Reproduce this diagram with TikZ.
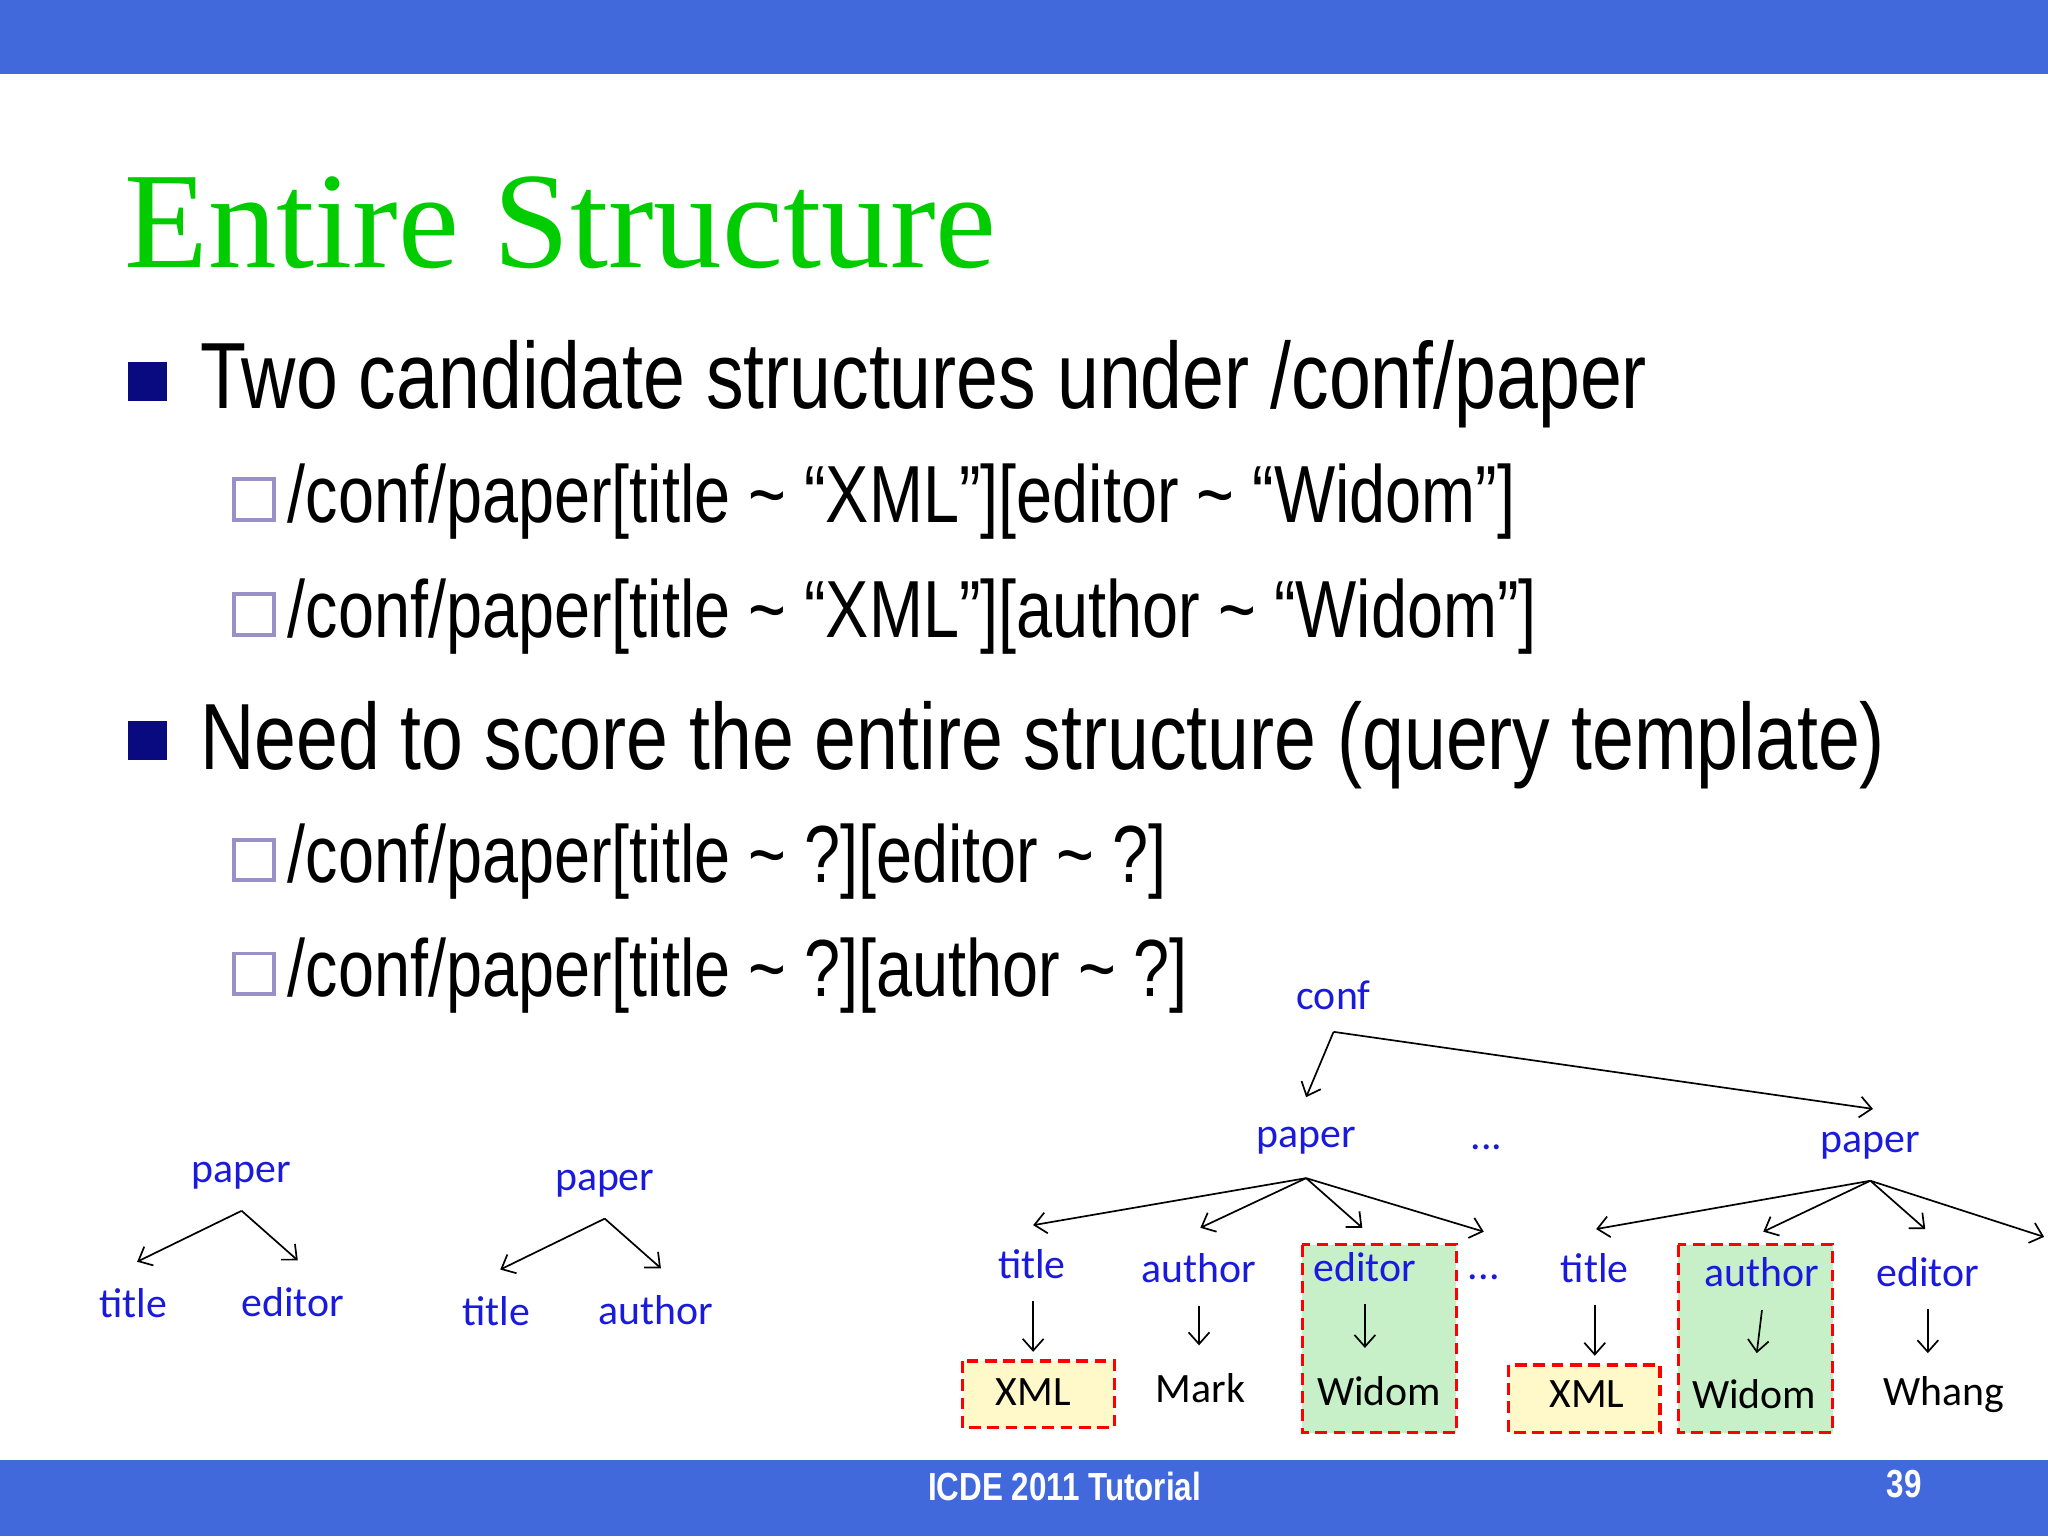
\documentclass[tikz,border=0pt]{standalone}
\usepackage{fontspec}
\usetikzlibrary{arrows.meta}
\setmainfont{Liberation Sans}
\newfontfamily\narrowf[FakeStretch=0.8]{Liberation Sans}
\newfontfamily\titlef{Liberation Serif}
\newfontfamily\calf{Carlito}
\definecolor{barblue}{HTML}{4169DC}
\definecolor{ttlgreen}{HTML}{00CC00}
\definecolor{navy}{HTML}{0A0A80}
\definecolor{lav}{HTML}{9A90C8}
\definecolor{tblue}{HTML}{1A1ADC}
\definecolor{yelfill}{HTML}{FFF8C8}
\definecolor{grnfill}{HTML}{C8F0C8}
\tikzset{
 bl/.style={font=\calf\fontsize{32}{36}\selectfont,text=tblue,inner sep=0pt},
 bk/.style={font=\calf\fontsize{32}{36}\selectfont,text=black,inner sep=0pt},
 ar/.style={-{Straight Barb[length=9pt,width=16pt]},line width=1.3pt},
 hl/.style={draw=red,dashed,line width=2.5pt,dash pattern=on 9pt off 5pt},
 big/.style={font=\narrowf\fontsize{72}{80}\selectfont,anchor=base west,inner sep=0pt},
 sub/.style={font=\narrowf\fontsize{62}{70}\selectfont,anchor=base west,inner sep=0pt},
 osq/.style={draw=lav,line width=3pt}
}
\begin{document}
\begin{tikzpicture}[x=1pt,y=-1pt]
\useasboundingbox (0,0) rectangle (1568,1176);
\fill[white] (0,0) rectangle (1568,1176);
\fill[barblue] (0,0) rectangle (1568,57);
\fill[barblue] (0,1118) rectangle (1568,1176);
\node[font=\narrowf\bfseries\fontsize{30}{34}\selectfont,text=white] (foot) at (815,1138) {ICDE 2011 Tutorial};
\node[font=\narrowf\bfseries\fontsize{30}{34}\selectfont,text=white] (pg) at (1458,1136) {39};
\node[font=\titlef\fontsize{105}{115}\selectfont,text=ttlgreen,anchor=base west,inner sep=0pt] (ttl) at (95,205) {Entire Structure};
\fill[navy] (98,277) rectangle (128,307);
\node[big] (b1) at (153,313) {Two candidate structures under /conf/paper};
\draw[osq] (179,367) rectangle (210,398);
\node[sub] (s1) at (220,400) {/conf/paper[title \textasciitilde{} “XML”][editor \textasciitilde{} “Widom”]};
\draw[osq] (179,455) rectangle (210,486);
\node[sub] (s2) at (220,488) {/conf/paper[title \textasciitilde{} “XML”][author \textasciitilde{} “Widom”]};
\fill[navy] (98,552) rectangle (128,582);
\node[big] (b2) at (153,589) {Need to score the entire structure (query template)};
\draw[osq] (179,643) rectangle (210,674);
\node[sub] (s3) at (220,676) {/conf/paper[title \textasciitilde{} ?][editor \textasciitilde{} ?]};
\draw[osq] (179,730) rectangle (210,761);
\node[sub] (s4) at (220,763) {/conf/paper[title \textasciitilde{} ?][author \textasciitilde{} ?]};
% left trees
\node[bl] (p1) at (185,900) {paper};
\node[bl] (t1) at (102,998) {title};
\node[bl] (e1) at (224,997) {editor};
\coordinate (p1b) at (185,927);
\draw[ar] (p1b) -- (105,966); \draw[ar] (p1b) -- (228,965);
\node[bl] (p2) at (463,906) {paper};
\node[bl] (t2) at (380,1004) {title};
\node[bl] (a2) at (502,1003) {author};
\coordinate (p2b) at (463,933);
\draw[ar] (p2b) -- (383,972); \draw[ar] (p2b) -- (506,971);
% big tree boxes
\draw[hl,fill=yelfill] (737,1042) rectangle (853,1093);
\draw[hl,fill=grnfill] (997,953) rectangle (1115,1097);
\draw[hl,fill=yelfill] (1155,1045) rectangle (1271,1097);
\draw[hl,fill=grnfill] (1285,953) rectangle (1403,1097);
\node[bl] (conf) at (1021,762) {conf};
\coordinate (cb) at (1021,790);
\draw[ar] (cb) -- (1000,840); \draw[ar] (cb) -- (1434,849);
\node[bl] (pa) at (1000,873) {paper};
\node[bl] (pb) at (1432,877) {paper};
\node[bl] (d0) at (1138,878) {...};
\coordinate (pab) at (1000,902);
\draw[ar] (pab) -- (791,938); \draw[ar] (pab) -- (919,940);
\draw[ar] (pab) -- (1043,940); \draw[ar] (pab) -- (1136,943);
\node[bl] (ta) at (790,968) {title};
\node[bl] (aa) at (918,971) {author};
\node[bl] (ea) at (1045,970) {editor};
\node[bl] (d1) at (1136,978) {...};
\draw[ar] (791,996) -- (791,1035);
\draw[ar] (918,1000) -- (918,1030);
\draw[ar] (1045,998) -- (1045,1032);
\node[bk] (xa) at (791,1066) {XML};
\node[bk] (ma) at (919,1063) {Mark};
\node[bk] (wa) at (1056,1065) {Widom};
\coordinate (pbb) at (1432,904);
\draw[ar] (pbb) -- (1222,941); \draw[ar] (pbb) -- (1350,943);
\draw[ar] (pbb) -- (1474,941); \draw[ar] (pbb) -- (1565,947);
\node[bl] (tb) at (1221,971) {title};
\node[bl] (ab) at (1349,974) {author};
\node[bl] (eb) at (1476,974) {editor};
\draw[ar] (1221,999) -- (1221,1038);
\draw[ar] (1349,1003) -- (1345,1036);
\draw[ar] (1476,1002) -- (1476,1036);
\node[bk] (xb) at (1215,1067) {XML};
\node[bk] (wb) at (1343,1067) {Widom};
\node[bk] (wh) at (1488,1068) {Whang};
\end{tikzpicture}
\end{document}
